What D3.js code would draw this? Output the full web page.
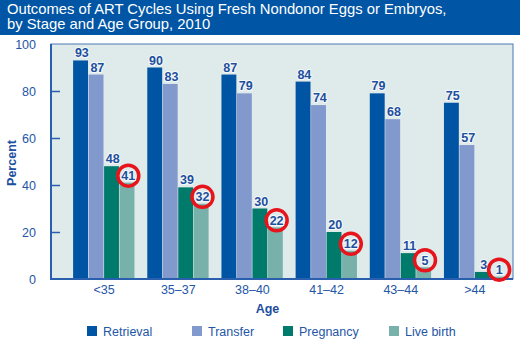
<!DOCTYPE html>
<html><head><meta charset="utf-8">
<script src="https://cdn.jsdelivr.net/npm/d3@7"></script>
<style>body{margin:0;background:#fff;} svg{display:block;font-family:"Liberation Sans",Arial,sans-serif;}</style>
</head><body>
<svg id="c" width="520" height="343"></svg>
<script>
const categories = ["<35","35\u201337","38\u201340","41\u201342","43\u201344",">44"];
const seriesNames = ["Retrieval","Transfer","Pregnancy","Live birth"];
const retrieval = [93,90,87,84,79,75];
const transfer = [87,83,79,74,68,57];
const pregnancy = [48,39,30,20,11,3];
const liveBirth = [41,32,22,12,5,1];
const yTicks = [0,20,40,60,80,100];
const titleLines = ["Outcomes of ART Cycles Using Fresh Nondonor Eggs or Embryos,","by Stage and Age Group, 2010"];

const series = [retrieval, transfer, pregnancy, liveBirth];
const colors = ["#0054a4","#8199cc","#007a6b","#78b1a9"];
const textBlue = "#2456a6";

const svg = d3.select("#c");
// title band
svg.append("rect").attr("x",0).attr("y",0).attr("width",520).attr("height",35).attr("fill","#0055a5");
titleLines.forEach((t,i)=>svg.append("text").attr("x",7).attr("y",14+i*14.5)
  .attr("fill","#fff").attr("font-size",14.8).text(t));

const pLeft=51, pRight=513, pTop=44, pBottom=279;
const y = d3.scaleLinear().domain([0,100]).range([pBottom, pTop]);
const x0 = d3.scaleBand().domain(categories).range([67,512]).paddingInner(0.165).paddingOuter(0.0825);
const x1 = d3.scaleBand().domain(seriesNames).range([0, x0.bandwidth()]);

// plot background
svg.append("rect").attr("x",pLeft).attr("y",pTop).attr("width",pRight-pLeft).attr("height",pBottom-pTop)
  .attr("fill","#dfeaeb").attr("stroke","#4a78b8").attr("stroke-width",1);

// bars
const g = svg.append("g");
categories.forEach((c,ci)=>{
  series.forEach((s,si)=>{
    g.append("rect").attr("x",x0(c)+x1(seriesNames[si])).attr("y",y(s[ci]))
      .attr("width",x1.bandwidth()-0.6).attr("height",y(0)-y(s[ci])).attr("fill",colors[si]);
  });
});

// axes lines
svg.append("line").attr("x1",pLeft).attr("x2",pLeft).attr("y1",pTop).attr("y2",pBottom+1).attr("stroke","#2a5fae").attr("stroke-width",2);
svg.append("line").attr("x1",pLeft).attr("x2",pRight).attr("y1",pBottom).attr("y2",pBottom).attr("stroke","#2a5fae").attr("stroke-width",2);

// y axis
const yAxis = d3.axisLeft(y).tickValues(yTicks).tickSize(-9).tickPadding(15);
const ya = svg.append("g").attr("transform",`translate(${pLeft},0)`).call(yAxis);
ya.select(".domain").remove();
ya.selectAll(".tick line").attr("stroke","#2a5fae").attr("stroke-width",1.5);
ya.selectAll(".tick text").attr("fill",textBlue).attr("font-size",12.5).attr("font-family","Liberation Sans, Arial, sans-serif");
ya.select(".tick:last-of-type line").remove();
ya.select(".tick:first-of-type line").remove();

// x axis
const xa = svg.append("g").attr("transform",`translate(0,${pBottom})`).call(d3.axisBottom(x0).tickSize(0).tickPadding(6.5));
xa.select(".domain").remove();
xa.selectAll(".tick text").attr("fill",textBlue).attr("font-size",12.5).attr("font-family","Liberation Sans, Arial, sans-serif");

// value labels
categories.forEach((c,ci)=>{
  series.forEach((s,si)=>{
    const cx = x0(c)+x1(seriesNames[si])+x1.bandwidth()/2;
    if(si===3){
      svg.append("circle").attr("cx",cx+1).attr("cy",y(s[ci])-7).attr("r",10.5)
        .attr("fill","none").attr("stroke","#e8141c").attr("stroke-width",3.5);
    }
    svg.append("text").attr("x",cx+1).attr("y",si===3? y(s[ci])-2.5 : y(s[ci])-3)
      .attr("text-anchor","middle").attr("font-size",12.5).attr("font-weight","bold")
      .attr("fill","#1d4f9e").attr("stroke","#f4f8f8").attr("stroke-width",2)
      .attr("paint-order","stroke").text(s[ci]);
  });
});

// axis titles
svg.append("text").attr("x",267.5).attr("y",313).attr("text-anchor","middle")
  .attr("font-size",12.5).attr("font-weight","bold").attr("fill","#1d4f9e").text("Age");
svg.append("text").attr("transform","translate(16,163) rotate(-90)").attr("text-anchor","middle")
  .attr("font-size",12.5).attr("font-weight","bold").attr("fill","#1d4f9e").text("Percent");

// legend
const legX = [87,192,283,389];
seriesNames.forEach((n,i)=>{
  svg.append("rect").attr("x",legX[i]).attr("y",326).attr("width",10).attr("height",10).attr("fill",colors[i]);
  svg.append("text").attr("x",legX[i]+16).attr("y",335.5).attr("font-size",12.5).attr("fill",textBlue).text(n);
});
</script>
</body></html>
